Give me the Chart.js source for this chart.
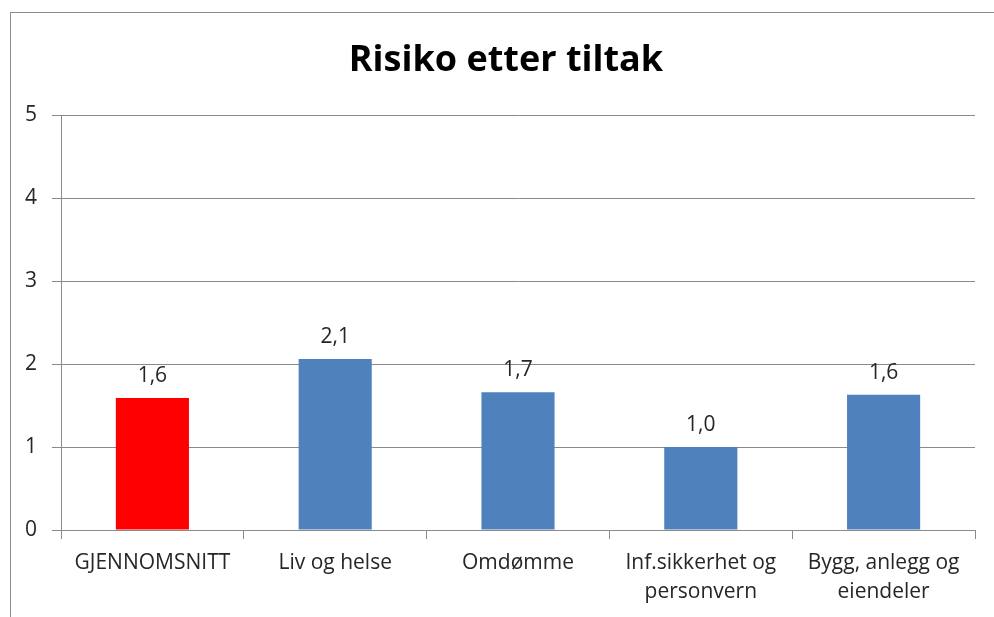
<!DOCTYPE html>
<html>
<head>
<meta charset="utf-8">
<script src="https://cdn.jsdelivr.net/npm/chart.js@4.4.0/dist/chart.umd.min.js"></script>
<style>
  html,body{margin:0;padding:0;background:#fff;overflow:hidden;}
  #wrap{position:relative;width:994px;height:617px;}
  #ramme{position:absolute;left:10px;top:12px;width:1000px;height:700px;border:1px solid #8c8c8c;box-sizing:border-box;}
  canvas{position:absolute;left:0;top:0;}
</style>
</head>
<body>
<div id="wrap">
  <div id="ramme"></div>
  <canvas id="grafico" width="994" height="617"></canvas>
</div>
<script>
const kategorier = [
  ["GJENNOMSNITT"],
  ["Liv og helse"],
  ["Omdømme"],
  ["Inf.sikkerhet og","personvern"],
  ["Bygg, anlegg og","eiendeler"]
];
const verdier = [1.59, 2.06, 1.66, 1.0, 1.63];
const farger = ["#ff0000","#4f81bd","#4f81bd","#4f81bd","#4f81bd"];
const yTicks = [0,1,2,3,4,5];

const fonte = "'Open Sans', sans-serif";
const tekstFarge = "#262626";
const linjeFarge = "#8a8a8a";

// verdier over stolpene, med komma som i originalen
const etiketter = {
  id:"etiketter",
  afterLayout(chart){
    // tittelen står litt til høyre i originalen
    if(chart.titleBlock) chart.titleBlock.left = 37;
  },
  afterDatasetsDraw(chart){
    const ctx = chart.ctx;
    const meta = chart.getDatasetMeta(0);
    ctx.save();
    ctx.font = "21px " + fonte;
    ctx.fillStyle = tekstFarge;
    ctx.textAlign = "center";
    ctx.textBaseline = "middle";
    meta.data.forEach((bar,i)=>{
      const txt = verdier[i].toFixed(1).replace(".",",");
      ctx.fillText(txt, bar.x, bar.y - 22);
    });
    ctx.restore();
  }
};

new Chart(document.getElementById("grafico"),{
  type:"bar",
  data:{
    labels:kategorier,
    datasets:[{
      data:verdier,
      backgroundColor:farger,
      borderWidth:0,
      categoryPercentage:1,
      barPercentage:0.4
    }]
  },
  options:{
    responsive:false,
    animation:false,
    layout:{padding:{left:0,right:19,top:0,bottom:0}},
    plugins:{
      legend:{display:false},
      tooltip:{enabled:false},
      title:{
        display:true,
        text:"Risiko etter tiltak",
        color:"#000",
        font:{family:fonte,size:36,weight:"bold"},
        padding:{top:39,bottom:33}
      }
    },
    scales:{
      x:{
        grid:{display:true,drawOnChartArea:false,drawTicks:true,offset:true,tickLength:9,color:linjeFarge},
        border:{display:true,color:linjeFarge},
        ticks:{color:tekstFarge,font:{family:fonte,size:21,lineHeight:1.4},padding:9,maxRotation:0,autoSkip:false},
        afterFit(s){ s.height = 87; }
      },
      y:{
        min:0,max:5,
        afterBuildTicks(s){ s.ticks = yTicks.map(v=>({value:v})); },
        grid:{color:linjeFarge,tickLength:9},
        border:{display:true,color:linjeFarge},
        ticks:{color:tekstFarge,font:{family:fonte,size:21},padding:15},
        afterFit(s){ s.width = 61; }
      }
    }
  },
  plugins:[etiketter]
});
</script>
</body>
</html>
